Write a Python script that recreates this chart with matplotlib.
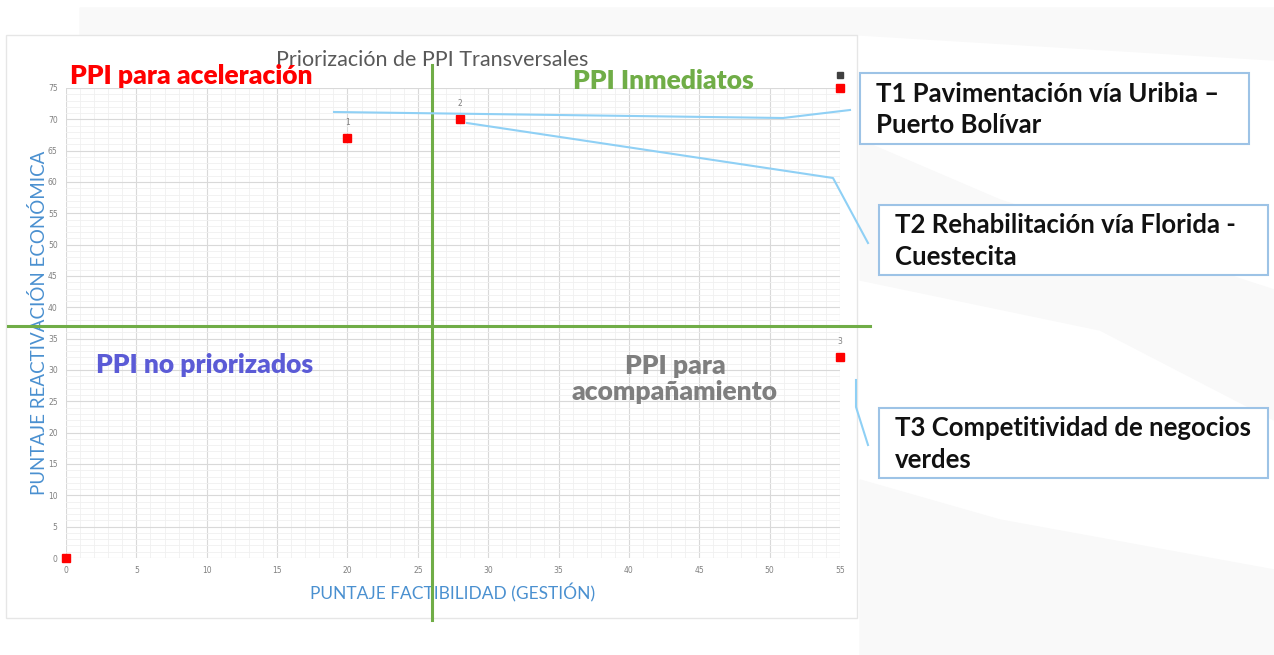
import matplotlib.pyplot as plt
from matplotlib.patches import Rectangle, Polygon
from matplotlib.ticker import MultipleLocator

# data
proj_x = [20, 28, 55]
proj_y = [67, 70, 32]
proj_lbl = ['1', '2', '3']
extra_x = [0, 55]          # unlabeled red points
extra_y = [0, 75]
legend_x = [55]            # dark marker at the top right
legend_y = [77]
cut_x = 26                 # quadrant thresholds
cut_y = 37

quadrants = ['PPI para aceleración', 'PPI Inmediatos', 'PPI no priorizados',
             'PPI para\nacompañamiento']
callouts = ['T1 Pavimentación vía Uribia –\nPuerto Bolívar',
            'T2 Rehabilitación vía Florida -\nCuestecita',
            'T3 Competitividad de negocios\nverdes']

W, H = 1274, 655
def px(x, y):
    return x / W, 1 - y / H

fig = plt.figure(figsize=(W / 100, H / 100), dpi=100)
fig.patch.set_facecolor('white')

# faint background bands of the slide
for pts in ([(80, 8), (1274, 8), (1274, 60), (860, 35), (80, 35)],
            [(860, 140), (1000, 200), (1274, 290), (1274, 420), (1100, 330), (860, 280)],
            [(860, 480), (1000, 520), (1274, 570), (1274, 655), (860, 655)]):
    fig.patches.append(Polygon([px(*p) for p in pts], closed=True,
                               transform=fig.transFigure, color='#F9F9F9', zorder=0))

# chart area box
x0, y0 = px(6, 618)
x1, y1 = px(857, 35)
fig.patches.append(Rectangle((x0, y0), x1 - x0, y1 - y0, transform=fig.transFigure,
                             facecolor='white', edgecolor='#E6E6E6', lw=1, zorder=1))

l, b = px(66, 558)
r, t = px(840, 88)
ax = fig.add_axes([l, b, r - l, t - b])
ax.set_zorder(2)
ax.set_facecolor('none')
ax.set_xlim(0, 55)
ax.set_ylim(0, 75)
ax.xaxis.set_major_locator(MultipleLocator(5))
ax.yaxis.set_major_locator(MultipleLocator(5))
ax.xaxis.set_minor_locator(MultipleLocator(1))
ax.yaxis.set_minor_locator(MultipleLocator(1))
ax.grid(which='major', color='#D9D9D9', lw=0.8)
ax.grid(which='minor', color='#F0F0F0', lw=0.6)
ax.set_axisbelow(True)
for s in ax.spines.values():
    s.set_visible(False)
ax.tick_params(which='both', length=0, labelsize=5.5, labelcolor='#808080', pad=6)

ax.plot(proj_x, proj_y, 's', color='#FF0000', ms=6, clip_on=False, zorder=5)
ax.plot(extra_x, extra_y, 's', color='#FF0000', ms=6, clip_on=False, zorder=5)
ax.plot(legend_x, legend_y, 's', color='#404040', ms=4.5, clip_on=False, zorder=5)
for xx, yy, lb in zip(proj_x, proj_y, proj_lbl):
    ax.annotate(lb, (xx, yy), xytext=(0, 8), textcoords='offset points',
                ha='center', va='bottom', fontsize=5.5, color='#808080')

# quadrant divider lines
ax.plot([cut_x, cut_x], [-9.9, 78.6], color='#70AD47', lw=2.2, clip_on=False, zorder=4)
ax.plot([-4.1, 57.1], [cut_y, cut_y], color='#70AD47', lw=2.2, clip_on=False, zorder=4)

ax.set_xlabel('PUNTAJE FACTIBILIDAD (GESTIÓN)', fontsize=12.5, color='#4A90D0',
              family='Lato', labelpad=6)
ax.set_ylabel('PUNTAJE REACTIVACIÓN ECONÓMICA', fontsize=13.5, color='#4A90D0',
              family='Lato', labelpad=0)

fig.text(*px(432, 60), 'Priorización de PPI Transversales', ha='center', va='center',
         fontsize=15.5, color='#595959', family='Lato', zorder=3)

qfont = dict(family='Lato', weight='heavy', fontsize=19, zorder=3)
fig.text(*px(70, 76), quadrants[0], ha='left', va='center', color='#FF0000', **qfont)
fig.text(*px(663, 81), quadrants[1], ha='center', va='center', color='#70AD47', **qfont)
fig.text(*px(205, 365), quadrants[2], ha='center', va='center', color='#5B5BD6', **qfont)
fig.text(*px(675, 379), quadrants[3], ha='center', va='center', color='#7F7F7F',
         linespacing=1.15, **qfont)

# callout boxes
boxes = [(860, 73, 1249, 144), (879, 205, 1268, 275), (879, 408, 1268, 478)]
for (bx0, by0, bx1, by1), txt in zip(boxes, callouts):
    fx0, fy0 = px(bx0, by1)
    fx1, fy1 = px(bx1, by0)
    fig.patches.append(Rectangle((fx0, fy0), fx1 - fx0, fy1 - fy0, transform=fig.transFigure,
                                 facecolor='white', edgecolor='#9DC3E6', lw=1.5, zorder=3))
    fig.text(*px(bx0 + 16, (by0 + by1) / 2 + 1), txt, ha='left', va='center', fontsize=18.5,
             family='Lato', weight='bold', color='#111111', linespacing=1.38, zorder=4)

# connector lines
connectors = [[(334, 112), (783, 118), (850, 110)],
              [(467, 123), (833, 178), (868, 243)],
              [(856, 380), (856, 407), (868, 445)]]
for pts in connectors:
    xs, ys = zip(*[px(*p) for p in pts])
    fig.add_artist(plt.Line2D(xs, ys, transform=fig.transFigure, color='#8FD0F5',
                              lw=1.5, zorder=6))

fig.savefig('out.png', dpi=100)
